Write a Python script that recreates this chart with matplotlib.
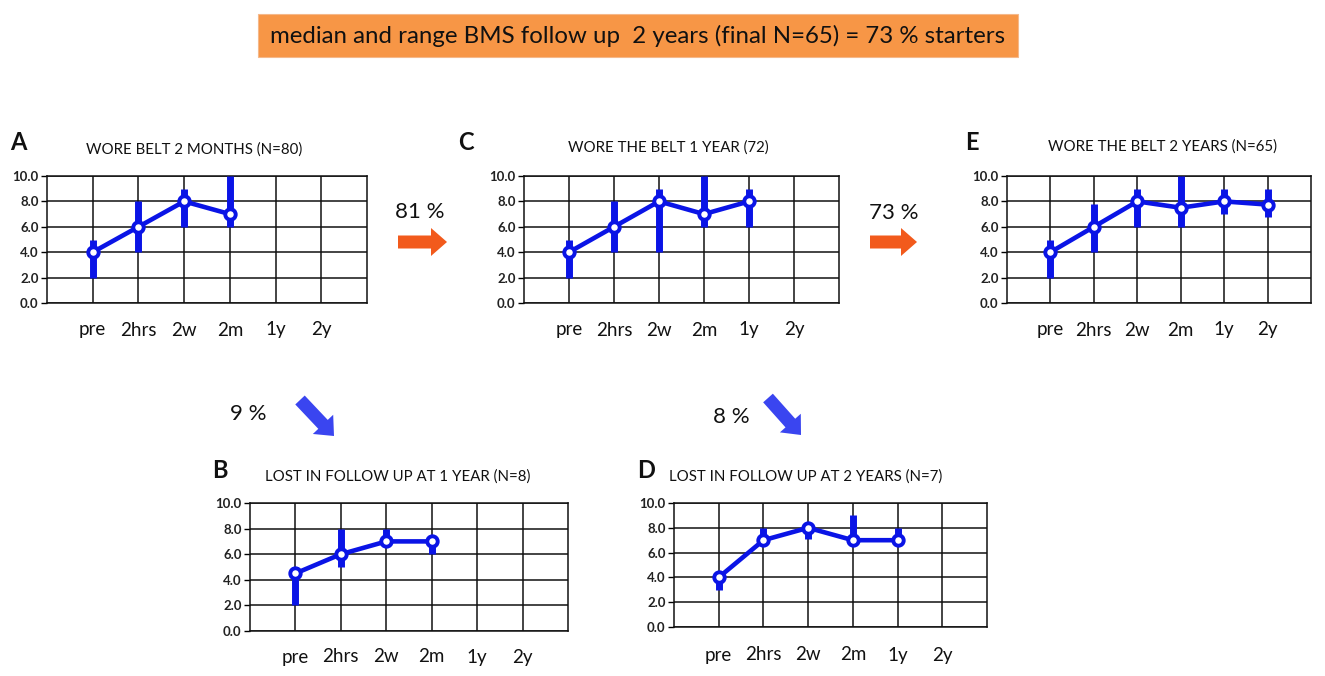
import numpy as np
import matplotlib
matplotlib.use('Agg')
import matplotlib.pyplot as plt
from matplotlib.patches import Rectangle, FancyArrow

plt.rcParams['font.family'] = ['Lato', 'DejaVu Sans']

# data: median and range of BMS per visit
cats = ['pre', '2hrs', '2w', '2m', '1y', '2y']

a_med = [4, 6, 8, 7]
a_lo = [2, 4, 6, 6]
a_hi = [5, 8, 9, 10]

c_med = [4, 6, 8, 7, 8]
c_lo = [2, 4, 4, 6, 6]
c_hi = [5, 8, 9, 10, 9]

e_med = [4, 6, 8, 7.5, 8, 7.75]
e_lo = [2, 4, 6, 6, 7, 6.8]
e_hi = [5, 7.8, 9, 10, 9, 9]

b_med = [4.5, 6, 7, 7]
b_lo = [2, 5, 7, 6]
b_hi = [5, 8, 8, 7]

d_med = [4, 7, 8, 7, 7]
d_lo = [3, 7, 7.1, 7, 7]
d_hi = [4, 8, 8.2, 9, 8]

W, H = 1325, 676
fig = plt.figure(figsize=(W / 100, H / 100), dpi=100)

# overlay in pixel coords for banner, arrows and labels
ov = fig.add_axes([0, 0, 1, 1])
ov.set_xlim(0, W)
ov.set_ylim(H, 0)
ov.axis('off')

BLUE = '#0a14e6'


def panel(box, med, lo, hi, title, letter, title_xy, letter_xy, label_y):
    l, t, r, b = box
    ax = fig.add_axes([l / W, (H - b) / H, (r - l) / W, (b - t) / H])
    x = np.arange(1, len(med) + 1)
    ax.vlines(x, lo, hi, color=BLUE, lw=5, zorder=3)
    ax.plot(x, med, color=BLUE, lw=3.3, marker='o', ms=7.5, mfc='white',
            mec=BLUE, mew=2.8, zorder=4)
    ax.set_xlim(0, 7)
    ax.set_ylim(0, 10)
    ax.set_yticks(np.arange(0, 11, 2))
    ax.set_yticklabels([f'{v:.1f}' for v in np.arange(0, 11, 2)],
                       fontsize=9.5, fontweight='bold', color='#222222')
    ax.set_xticks(range(1, 7))
    ax.set_xticklabels([])
    ax.tick_params(axis='x', length=0)
    ax.tick_params(axis='y', length=4, width=1, pad=2)
    ax.grid(True, color='#111111', lw=1.1)
    ax.set_axisbelow(True)
    for s in ax.spines.values():
        s.set_color('#111111')
        s.set_linewidth(1.1)
    for i, c in enumerate(cats):
        xp = l + (i + 1) * (r - l) / 7
        ov.text(xp, label_y, c, ha='center', va='center', fontsize=13.5, color='#111111')
    ov.text(title_xy[0], title_xy[1], title, ha='center', va='center',
            fontsize=10.8, color='#111111')
    ov.text(letter_xy[0], letter_xy[1], letter, ha='center', va='center',
            fontsize=17, fontweight='bold', color='#111111')
    return ax


panel((47, 176, 367, 303), a_med, a_lo, a_hi, 'WORE BELT 2 MONTHS (N=80)', 'A',
      (194, 150), (18, 143), 330)
panel((524, 176, 839, 303), c_med, c_lo, c_hi, 'WORE THE BELT 1 YEAR (72)', 'C',
      (668, 148), (466, 143), 330)
panel((1007, 176, 1311, 303), e_med, e_lo, e_hi, 'WORE THE BELT 2 YEARS (N=65)', 'E',
      (1163, 147), (972, 143), 330)
panel((250, 503, 568, 631), b_med, b_lo, b_hi, 'LOST IN FOLLOW UP AT 1 YEAR (N=8)', 'B',
      (398, 477), (220, 470), 657)
panel((674, 503, 987, 627), d_med, d_lo, d_hi, 'LOST IN FOLLOW UP AT 2 YEARS (N=7)', 'D',
      (806, 477), (646, 470), 655)

# banner
ov.add_patch(Rectangle((258, 14), 760, 43, facecolor='#f79646', edgecolor='#f5b88a', lw=0.8))
ov.text(638, 36, 'median and range BMS follow up  2 years (final N=65) = 73 % starters',
        ha='center', va='center', fontsize=17.3, color='#111111')

# transition arrows and percentages
ORANGE = '#f25a1c'
ARROW_BLUE = '#3a45f0'
for x0, y0, dx, dy, col in [(398, 242, 49, 0, ORANGE), (870, 242, 47, 0, ORANGE),
                            (300, 400, 34, 36, ARROW_BLUE), (768, 398, 33, 37, ARROW_BLUE)]:
    ov.add_patch(FancyArrow(x0, y0, dx, dy, width=13, head_width=28, head_length=16,
                            length_includes_head=True, color=col, lw=0))

for x, y, s in [(420, 212, '81 %'), (894, 213, '73 %'), (248, 414, '9 %'), (731, 417, '8 %')]:
    ov.text(x, y, s, ha='center', va='center', fontsize=16, color='#111111')

fig.savefig('out.png', dpi=100)
